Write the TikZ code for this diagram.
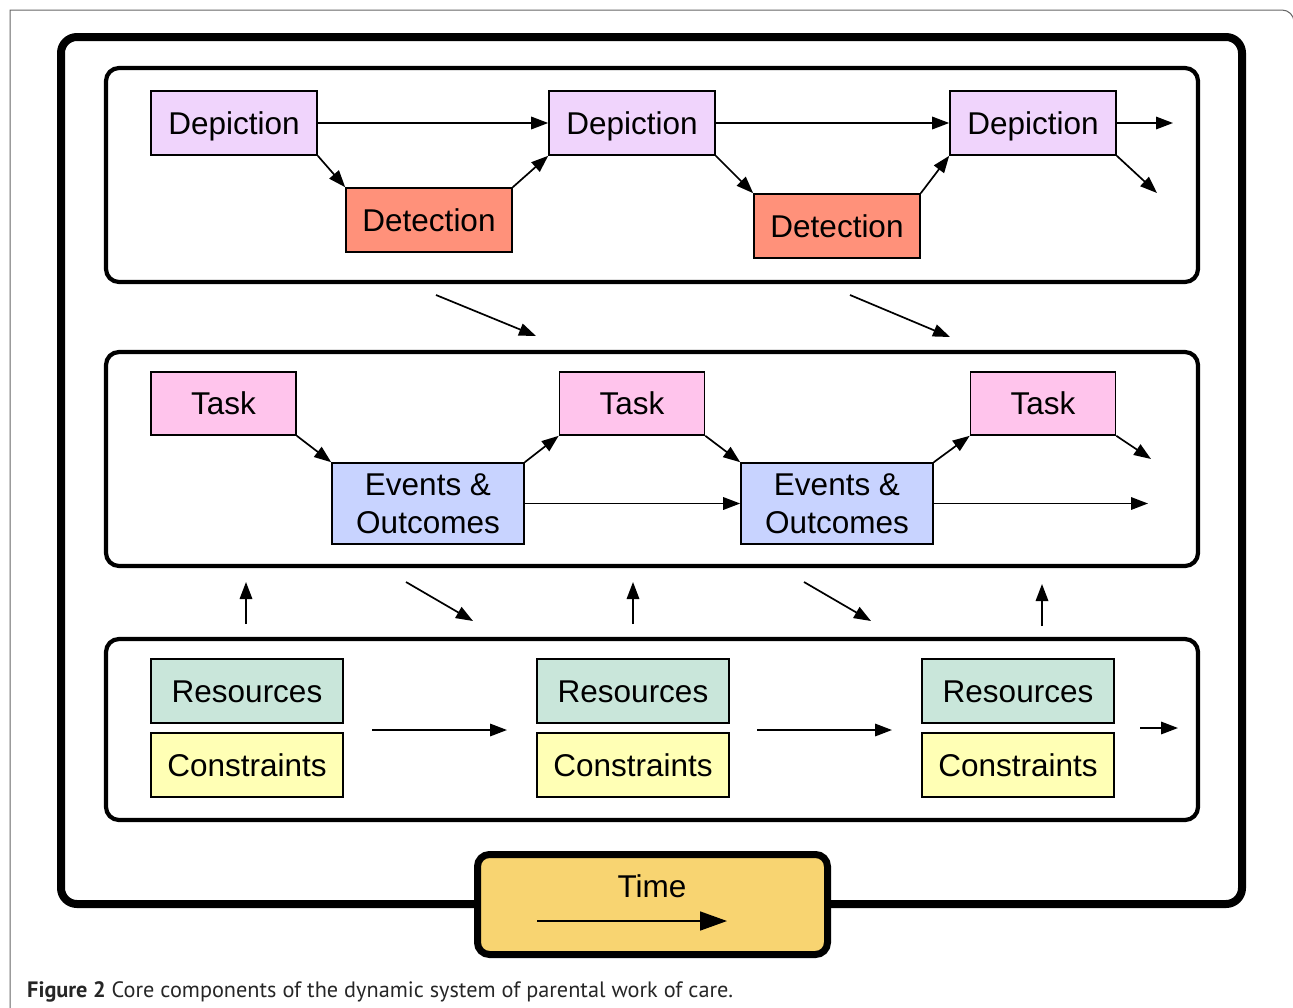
\documentclass[tikz,border=0pt]{standalone}
\usepackage{fontspec}
\setmainfont{Liberation Sans}
\newfontfamily\capfont{PT Sans}
\usetikzlibrary{arrows.meta}
\definecolor{depc}{HTML}{F0D4FC}
\definecolor{detc}{HTML}{FF917A}
\definecolor{taskc}{HTML}{FFC4EC}
\definecolor{evc}{HTML}{C8D3FF}
\definecolor{resc}{HTML}{C9E6DA}
\definecolor{conc}{HTML}{FFFFB5}
\definecolor{timec}{HTML}{F8D471}
\definecolor{capc}{HTML}{262626}
\tikzset{
  box/.style={draw=black, line width=1.6pt, inner sep=0pt, align=center,
    font=\fontsize{31.5}{38}\selectfont},
  sl/.style={text height=22.5pt, text depth=0pt},
  dep/.style={box, sl, fill=depc, minimum width=166pt, minimum height=64pt},
  det/.style={box, sl, fill=detc, minimum width=166pt, minimum height=64pt},
  task/.style={box, sl, fill=taskc, minimum width=145pt, minimum height=63pt},
  ev/.style={box, fill=evc, minimum width=192pt, minimum height=81pt},
  res/.style={box, sl, fill=resc, minimum width=192pt, minimum height=64pt},
  con/.style={box, sl, fill=conc, minimum width=192pt, minimum height=64pt},
  arr/.style={line width=1.7pt, -{Triangle[length=17pt, width=12.5pt]}},
  panel/.style={line width=4.2pt, rounded corners=13pt},
}
\begin{document}
\begin{tikzpicture}[x=1pt, y=-1pt]
\useasboundingbox (0,0) rectangle (1293,1007);
\clip (0,0) rectangle (1293,1007);
% outer thin frame
\draw[line width=1pt, black!60] (10,1010) -- (10,10) [rounded corners=12pt] -- (1294,10) -- (1294,1010);
% big frame
\draw[line width=8pt, rounded corners=16pt] (61,37) rectangle (1242,904);
% panels
\draw[panel] (106,68) rectangle (1198,282);
\draw[panel] (106,352) rectangle (1198,566);
\draw[panel] (106,639) rectangle (1198,820);

% Top row
\node[dep] (dep1) at (234,123) {Depiction};
\node[det] (det1) at (429,220) {Detection};
\node[dep] (dep2) at (632,123) {Depiction};
\node[det] (det2) at (837,226) {Detection};
\node[dep] (dep3) at (1033,123) {Depiction};
\coordinate (dep3r) at (1173,123);
\coordinate (dep3d) at (1157,193);
\draw[arr] (dep1.east) -- (dep2.west);
\draw[arr] (dep2.east) -- (dep3.west);
\draw[arr] (dep3.east) -- (dep3r);
\draw[arr] (dep1.south east) -- (det1.north west);
\draw[arr] (det1.north east) -- (dep2.south west);
\draw[arr] (dep2.south east) -- (det2.north west);
\draw[arr] (det2.north east) -- (dep3.south west);
\draw[arr] (dep3.south east) -- (dep3d);

% between top and middle
\coordinate (a1s) at (436,295); \coordinate (a1e) at (536,336);
\coordinate (a2s) at (850,295); \coordinate (a2e) at (950,337);
\draw[arr] (a1s) -- (a1e);
\draw[arr] (a2s) -- (a2e);

% Middle row
\node[task] (task1) at (223.5,403.5) {Task};
\node[task] (task2) at (632,403.5) {Task};
\node[task] (task3) at (1043,403.5) {Task};
\node[ev] (ev1) at (428,503.5) {Events \&\\Outcomes};
\node[ev] (ev2) at (837,503.5) {Events \&\\Outcomes};
\coordinate (task3d) at (1151,459);
\coordinate (ev2r) at (1148,503.5);
\draw[arr] (task1.south east) -- (ev1.north west);
\draw[arr] (ev1.north east) -- (task2.south west);
\draw[arr] (task2.south east) -- (ev2.north west);
\draw[arr] (ev2.north east) -- (task3.south west);
\draw[arr] (task3.south east) -- (task3d);
\draw[arr] (ev1.east) -- (ev2.west);
\draw[arr] (ev2.east) -- (ev2r);

% between middle and bottom
\coordinate (u1s) at (246,624); \coordinate (u1e) at (246,582);
\coordinate (u2s) at (633,624); \coordinate (u2e) at (633,582);
\coordinate (u3s) at (1042,626); \coordinate (u3e) at (1042,584);
\coordinate (d1s) at (406,582); \coordinate (d1e) at (473,621);
\coordinate (d2s) at (804,582); \coordinate (d2e) at (871,621);
\draw[arr] (u1s) -- (u1e);
\draw[arr] (u2s) -- (u2e);
\draw[arr] (u3s) -- (u3e);
\draw[arr] (d1s) -- (d1e);
\draw[arr] (d2s) -- (d2e);

% Bottom row
\node[res] (res1) at (247,691) {Resources};
\node[con] (con1) at (247,765) {Constraints};
\node[res] (res2) at (633,691) {Resources};
\node[con] (con2) at (633,765) {Constraints};
\node[res] (res3) at (1018,691) {Resources};
\node[con] (con3) at (1018,765) {Constraints};
\coordinate (b1s) at (372,730); \coordinate (b1e) at (507,730);
\coordinate (b2s) at (757,730); \coordinate (b2e) at (892,730);
\coordinate (b3s) at (1140,728); \coordinate (b3e) at (1178,728);
\draw[arr] (b1s) -- (b1e);
\draw[arr] (b2s) -- (b2e);
\draw[arr] (b3s) -- (b3e);

% Time box
\node[draw=black, line width=7pt, rounded corners=12pt, fill=timec,
  minimum width=350pt, minimum height=100pt, inner sep=0pt] (time) at (652.5,904.5) {};
\node[font=\fontsize{31.5}{35}\selectfont, inner sep=0pt, text height=22.5pt, text depth=0pt] (timet) at (652,886) {Time};
\coordinate (ts) at (537,921); \coordinate (te) at (727,921);
\draw[line width=1.7pt, -{Triangle[length=27pt, width=19pt]}] (ts) -- (te);

% caption
\node[anchor=base west, inner sep=0pt, text=capc, font=\capfont\fontsize{21}{24}\selectfont] (cap) at (27,997)
  {\resizebox{706pt}{!}{\textbf{Figure 2} Core components of the dynamic system of parental work of care.}};
\end{tikzpicture}
\end{document}
